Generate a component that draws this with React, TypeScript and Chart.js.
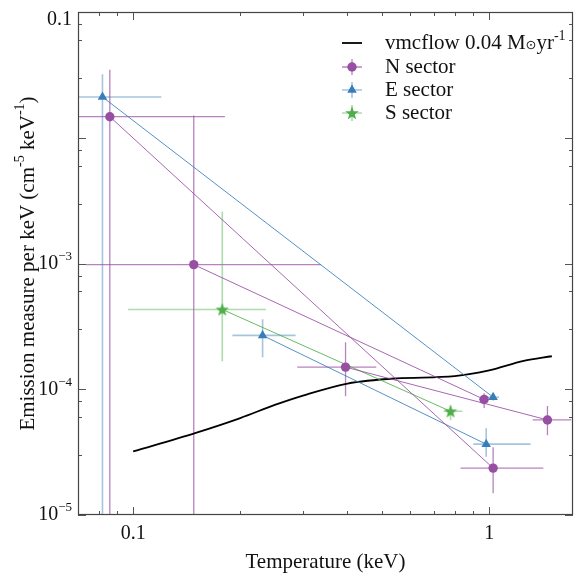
import React, { useEffect, useRef } from 'react';
import { Chart, registerables } from 'chart.js';
Chart.register(...registerables);

// ---------------- data ----------------
// model curve
const vmcTemp = [0.1, 0.15, 0.2, 0.25, 0.3, 0.4, 0.55, 0.8, 1.0, 1.25, 1.5];
const vmcEM = [3.2e-5, 4.5e-5, 5.9e-5, 7.5e-5, 8.9e-5, 1.11e-4, 1.22e-4, 1.27e-4, 1.41e-4, 1.68e-4, 1.83e-4];

// N sector
const nTemp = [0.086, 0.148, 0.395, 0.968, 1.026, 1.458];
const nTempLow = [0.06, 0.0736, 0.289, 0.937, 0.831, 1.325];
const nTempHigh = [0.181, 0.337, 0.482, 1.04, 1.42, 1.7];
const nEM = [1.47e-2, 9.8e-4, 1.5e-4, 8.3e-5, 2.36e-5, 5.7e-5];
const nEMLow = [1e-6, 1e-6, 8.8e-5, 7.1e-5, 1.49e-5, 4.3e-5];
const nEMHigh = [3.47e-2, 1.5e-2, 2.36e-4, 9.3e-5, 3.46e-5, 7.35e-5];
const nPairs = [[0, 4], [1, 3], [2, 5]];

// E sector
const eTemp = [0.082, 0.231, 0.981, 1.026];
const eTempLow = [0.06, 0.19, 0.903, 0.981];
const eTempHigh = [0.12, 0.286, 1.308, 1.066];
const eEM = [2.11e-2, 2.68e-4, 3.66e-5, 8.64e-5];
const eEMLow = [1e-6, 1.8e-4, 2.9e-5, 8.1e-5];
const eEMHigh = [3.2e-2, 3.6e-4, 4.9e-5, 9.3e-5];
const ePairs = [[0, 3], [1, 2]];

// S sector
const sTemp = [0.178, 0.779];
const sTempLow = [0.0968, 0.745];
const sTempHigh = [0.236, 0.841];
const sEM = [4.31e-4, 6.68e-5];
const sEMLow = [1.67e-4, 5.67e-5];
const sEMHigh = [2.59e-3, 7.46e-5];
const sPairs = [[0, 1]];

// axes / labels
const xMin = 0.07;
const xMax = 1.72;
const yMin = 1e-5;
const yMax = 0.1;
const xTickValues = [0.1, 1];
const xTickLabels = ['0.1', '1'];
const yTickValues = [1e-5, 1e-4, 1e-3, 0.1];
const yTickBases = ['10', '10', '10', '0.1'];
const yTickExps = ['\u22125', '\u22124', '\u22123', ''];
const xTitle = 'Temperature (keV)';
const yTitleParts = ['Emission measure per keV (cm', '-5', ' keV', '-1', ')'];
const legendLabels = ['vmcflow 0.04 M', 'N sector', 'E sector', 'S sector'];

// ---------------- styles ----------------
const FONT = '"Liberation Serif", "DejaVu Serif", serif';
const N_COLOR = '#984ea3';
const E_COLOR = '#377eb8';
const S_COLOR = '#4daf4a';

function makeStar(color: string, outer: number, inner: number) {
  const c = document.createElement('canvas');
  const size = Math.ceil(outer * 2 + 2);
  c.width = size;
  c.height = size;
  const ctx = c.getContext('2d')!;
  const cx = size / 2;
  const cy = size / 2 + 0.5;
  ctx.beginPath();
  for (let i = 0; i < 10; i++) {
    const a = -Math.PI / 2 + (i * Math.PI) / 5;
    const r = i % 2 === 0 ? outer : inner;
    const px = cx + Math.cos(a) * r;
    const py = cy + Math.sin(a) * r;
    if (i === 0) ctx.moveTo(px, py);
    else ctx.lineTo(px, py);
  }
  ctx.closePath();
  ctx.fillStyle = color;
  ctx.fill();
  return c;
}

function logTicks(min: number, max: number) {
  const out: { value: number; major: boolean }[] = [];
  for (let d = -7; d <= 2; d++) {
    for (let k = 1; k <= 9; k++) {
      const v = k * Math.pow(10, d);
      if (v >= min * 0.9999 && v <= max * 1.0001) out.push({ value: v, major: k === 1 });
    }
  }
  return out;
}

export default function App() {
  const ref = useRef<HTMLCanvasElement>(null);

  useEffect(() => {
    const canvas = ref.current!;
    const star = makeStar(S_COLOR, 7, 2.9);

    const sectors = [
      { name: 'N', color: N_COLOR, line: 'rgba(152,78,163,0.85)', err: 'rgba(152,78,163,0.7)', errW: 1.3, style: 'circle' as any, radius: 4.7,
        t: nTemp, tl: nTempLow, th: nTempHigh, e: nEM, el: nEMLow, eh: nEMHigh, pairs: nPairs },
      { name: 'E', color: E_COLOR, line: 'rgba(55,126,184,0.85)', err: 'rgba(55,126,184,0.45)', errW: 1.6, style: 'triangle' as any, radius: 5.5,
        t: eTemp, tl: eTempLow, th: eTempHigh, e: eEM, el: eEMLow, eh: eEMHigh, pairs: ePairs },
      { name: 'S', color: S_COLOR, line: 'rgba(77,175,74,0.85)', err: 'rgba(77,175,74,0.45)', errW: 1.6, style: star as any, radius: 6,
        t: sTemp, tl: sTempLow, th: sTempHigh, e: sEM, el: sEMLow, eh: sEMHigh, pairs: sPairs },
    ];

    const datasets: any[] = [];
    sectors.forEach((s) => {
      s.pairs.forEach((p) => {
        datasets.push({
          label: s.name,
          data: p.map((i) => ({ x: s.t[i], y: s.e[i] })),
          showLine: true,
          borderColor: s.line,
          borderWidth: 1,
          pointStyle: s.style,
          pointRadius: s.radius,
          pointBackgroundColor: s.color,
          pointBorderColor: s.color,
          pointBorderWidth: 0,
          clip: false,
        });
      });
    });
    datasets.push({
      label: 'vmcflow',
      data: vmcTemp.map((t, i) => ({ x: t, y: vmcEM[i] })),
      showLine: true,
      borderColor: '#000000',
      borderWidth: 1.8,
      pointRadius: 0,
      tension: 0.3,
      cubicInterpolationMode: 'monotone',
    });

    const drawSup = (ctx: CanvasRenderingContext2D, parts: string[], x: number, y: number, size: number, supSize: number, align: 'left' | 'right' | 'center') => {
      // parts alternate: normal, sup, normal, sup ...
      const widths = parts.map((p, i) => {
        ctx.font = `${i % 2 === 1 ? supSize : size}px ${FONT}`;
        return ctx.measureText(p).width;
      });
      const total = widths.reduce((a, b) => a + b, 0);
      let cx = align === 'left' ? x : align === 'right' ? x - total : x - total / 2;
      ctx.textAlign = 'left';
      ctx.textBaseline = 'middle';
      parts.forEach((p, i) => {
        const sup = i % 2 === 1;
        ctx.font = `${sup ? supSize : size}px ${FONT}`;
        ctx.fillText(p, cx, sup ? y - size * 0.35 : y);
        cx += widths[i];
      });
    };

    const decor = {
      id: 'decor',
      beforeDatasetsDraw(chart: any) {
        const { ctx, chartArea } = chart;
        const xs = chart.scales.x;
        const ys = chart.scales.y;
        ctx.save();
        ctx.beginPath();
        ctx.rect(chartArea.left, chartArea.top, chartArea.right - chartArea.left, chartArea.bottom - chartArea.top);
        ctx.clip();
        sectors.forEach((s) => {
          ctx.strokeStyle = s.err;
          ctx.lineWidth = s.errW;
          s.t.forEach((t, i) => {
            const px = xs.getPixelForValue(t);
            const py = ys.getPixelForValue(s.e[i]);
            ctx.beginPath();
            ctx.moveTo(xs.getPixelForValue(s.tl[i]), py);
            ctx.lineTo(xs.getPixelForValue(s.th[i]), py);
            ctx.moveTo(px, ys.getPixelForValue(s.el[i]));
            ctx.lineTo(px, ys.getPixelForValue(s.eh[i]));
            ctx.stroke();
          });
        });
        ctx.restore();
      },
      afterDraw(chart: any) {
        const { ctx, chartArea } = chart;
        const { left, right, top, bottom } = chartArea;
        const xs = chart.scales.x;
        const ys = chart.scales.y;
        ctx.save();
        // ticks
        ctx.strokeStyle = '#555';
        ctx.lineWidth = 1;
        xs.ticks.forEach((tk: any) => {
          const px = Math.round(xs.getPixelForValue(tk.value)) + 0.5;
          const len = tk.major ? 8 : 4;
          ctx.beginPath();
          ctx.moveTo(px, bottom);
          ctx.lineTo(px, bottom - len);
          ctx.moveTo(px, top);
          ctx.lineTo(px, top + len);
          ctx.stroke();
        });
        ys.ticks.forEach((tk: any) => {
          const py = Math.round(ys.getPixelForValue(tk.value)) + 0.5;
          const len = tk.major ? 8 : 4;
          ctx.beginPath();
          ctx.moveTo(left, py);
          ctx.lineTo(left + len, py);
          ctx.moveTo(right, py);
          ctx.lineTo(right - len, py);
          ctx.stroke();
        });
        // frame
        ctx.strokeStyle = '#444';
        ctx.lineWidth = 1.2;
        ctx.strokeRect(left + 0.5, top + 0.5, right - left - 1, bottom - top - 1);

        // tick labels
        ctx.fillStyle = '#111';
        xTickValues.forEach((v, i) => {
          ctx.font = `20px ${FONT}`;
          ctx.textAlign = 'center';
          ctx.textBaseline = 'middle';
          ctx.fillText(xTickLabels[i], xs.getPixelForValue(v), bottom + 19);
        });
        yTickValues.forEach((v, i) => {
          const py = Math.max(ys.getPixelForValue(v), top + 8);
          const parts = yTickExps[i] ? [yTickBases[i], yTickExps[i]] : [yTickBases[i]];
          drawSup(ctx, parts, left - 6, py, 20, 13, 'right');
        });

        // axis titles
        ctx.fillStyle = '#111';
        ctx.font = `21px ${FONT}`;
        ctx.textAlign = 'center';
        ctx.textBaseline = 'middle';
        ctx.fillText(xTitle, (left + right) / 2, bottom + 47);

        ctx.save();
        ctx.translate(28, (top + bottom) / 2);
        ctx.rotate(-Math.PI / 2);
        drawSup(ctx, yTitleParts, 0, 0, 21, 14, 'center');
        ctx.restore();

        // legend
        const hx = 352;
        const rows = [43, 67, 90, 113];
        // model line
        ctx.strokeStyle = '#000';
        ctx.lineWidth = 1.8;
        ctx.beginPath();
        ctx.moveTo(hx - 10, rows[0]);
        ctx.lineTo(hx + 10, rows[0]);
        ctx.stroke();
        sectors.forEach((s, k) => {
          const y = rows[k + 1];
          ctx.strokeStyle = s.err;
          ctx.lineWidth = s.errW;
          ctx.beginPath();
          ctx.moveTo(hx - 10, y);
          ctx.lineTo(hx + 10, y);
          ctx.moveTo(hx, y - 8);
          ctx.lineTo(hx, y + 8);
          ctx.stroke();
          ctx.fillStyle = s.color;
          if (s.name === 'N') {
            ctx.beginPath();
            ctx.arc(hx, y, 4.7, 0, Math.PI * 2);
            ctx.fill();
          } else if (s.name === 'E') {
            const r = 5.5;
            ctx.beginPath();
            for (let j = 0; j < 3; j++) {
              const a = -Math.PI / 2 + (j * 2 * Math.PI) / 3;
              const px = hx + Math.cos(a) * r;
              const py = y + Math.sin(a) * r;
              if (j === 0) ctx.moveTo(px, py);
              else ctx.lineTo(px, py);
            }
            ctx.closePath();
            ctx.fill();
          } else {
            ctx.drawImage(star, hx - star.width / 2, y - star.height / 2);
          }
        });
        ctx.fillStyle = '#111';
        ctx.textAlign = 'left';
        ctx.textBaseline = 'middle';
        // first row with sun symbol and superscript
        ctx.font = `21px ${FONT}`;
        let tx = 385;
        ctx.fillText(legendLabels[0], tx, rows[0]);
        tx += ctx.measureText(legendLabels[0]).width;
        ctx.font = `13px "DejaVu Sans", ${FONT}`;
        ctx.fillText('\u2299', tx, rows[0] + 3);
        tx += ctx.measureText('\u2299').width;
        ctx.font = `21px ${FONT}`;
        ctx.fillText('yr', tx, rows[0]);
        tx += ctx.measureText('yr').width;
        ctx.font = `14px ${FONT}`;
        ctx.fillText('-1', tx, rows[0] - 7);
        ctx.font = `21px ${FONT}`;
        for (let k = 1; k < 4; k++) ctx.fillText(legendLabels[k], 385, rows[k]);
        ctx.restore();
      },
    };

    const chart = new Chart(canvas, {
      type: 'scatter',
      data: { datasets },
      options: {
        animation: false,
        responsive: false,
        devicePixelRatio: 1,
        layout: { padding: { left: 78, right: 1, top: 12, bottom: 59 } },
        plugins: { legend: { display: false }, tooltip: { enabled: false } },
        scales: {
          x: {
            type: 'logarithmic',
            min: xMin,
            max: xMax,
            display: false,
            afterBuildTicks: (scale: any) => { scale.ticks = logTicks(xMin, xMax); },
          },
          y: {
            type: 'logarithmic',
            min: yMin,
            max: yMax,
            display: false,
            afterBuildTicks: (scale: any) => { scale.ticks = logTicks(yMin, yMax); },
          },
        },
      } as any,
      plugins: [decor],
    });
    return () => chart.destroy();
  }, []);

  return (
    <div style={{ position: 'absolute', left: 0, top: 0, width: 579, height: 574, background: '#fff' }}>
      <canvas ref={ref} width={579} height={574} style={{ display: 'block', width: 579, height: 574 }} />
    </div>
  );
}
